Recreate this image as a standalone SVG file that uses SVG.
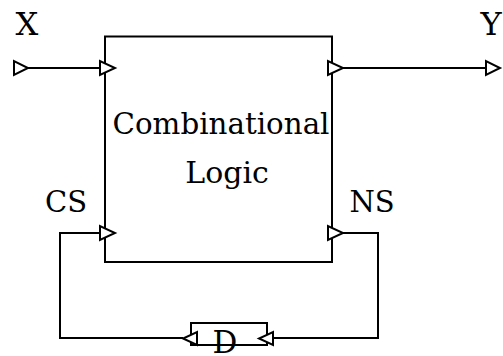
<svg xmlns="http://www.w3.org/2000/svg" width="503" height="356" viewBox="0 0 503 356">
  <style>
    .box { fill: #fff; stroke: #000; stroke-width: 2; }
    .wire { fill: none; stroke: #000; stroke-width: 2; }
    .port { fill: #fff; stroke: #000; stroke-width: 2; stroke-linejoin: miter; }
    .lbl { font-family: "DejaVu Serif", "Liberation Serif", serif; fill: #000; }
  </style>

  <g id="connectors">
    <!-- X input -->
    <line class="wire" x1="28" y1="68" x2="100" y2="68"/>
    <!-- Y output -->
    <line class="wire" x1="343" y1="68" x2="485" y2="68"/>
    <!-- NS back through D to CS -->
    <polyline class="wire" points="343,233 378,233 378,338 273,338"/>
    <polyline class="wire" points="183,338 60,338 60,233 100,233"/>
  </g>

  <g id="logic">
    <rect class="box" x="105" y="36.5" width="227" height="225.5"/>
    <text class="lbl" x="221" y="134" font-size="30" text-anchor="middle" textLength="217" lengthAdjust="spacingAndGlyphs">Combinational</text>
    <text class="lbl" x="227" y="183" font-size="30" text-anchor="middle">Logic</text>
  </g>

  <g id="dff">
    <rect class="box" x="191" y="323" width="76" height="22"/>
    <text class="lbl" x="225" y="353" font-size="31" text-anchor="middle">D</text>
  </g>

  <g id="ports">
    <polygon class="port" points="14,61 14,75 28,68"/>
    <polygon class="port" points="100,61 100,75 115,68"/>
    <polygon class="port" points="328,61 328,75 343,68"/>
    <polygon class="port" points="486,61 486,75 500,68"/>
    <polygon class="port" points="100,226 100,240 115,233"/>
    <polygon class="port" points="328,226 328,240 343,233"/>
    <polygon class="port" points="197,332 197,345 183,338.5"/>
    <polygon class="port" points="273,332 273,345 259,338.5"/>
  </g>

  <g id="labels">
    <text class="lbl" x="27" y="35" font-size="32" text-anchor="middle">X</text>
    <text class="lbl" x="491" y="35" font-size="32" text-anchor="middle">Y</text>
    <text class="lbl" x="66" y="212" font-size="29" text-anchor="middle">CS</text>
    <text class="lbl" x="372" y="212" font-size="29" text-anchor="middle">NS</text>
  </g>
</svg>
